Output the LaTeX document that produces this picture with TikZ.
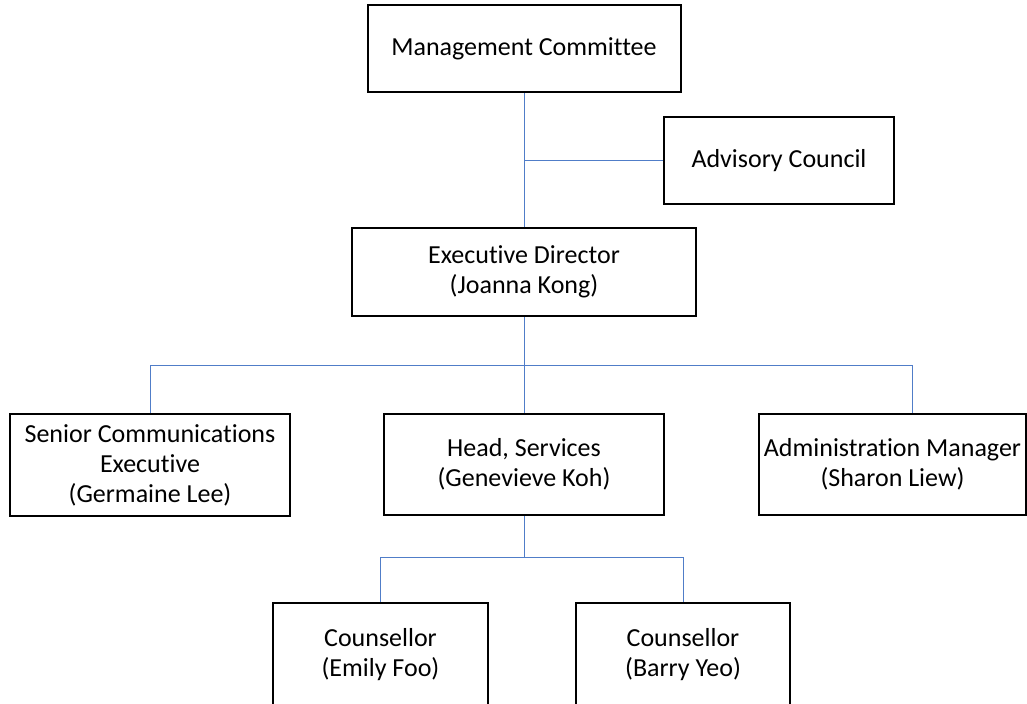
\documentclass[tikz,border=0pt]{standalone}
\usepackage{fontspec}
\setmainfont[RawFeature={-liga;-clig;-calt;-dlig}]{Carlito}
\usepackage{tikz}
\definecolor{linkblue}{RGB}{80,125,200}
\usetikzlibrary{calc,positioning}
\tikzset{%
  post/.style={draw, rectangle, fill=white, line width=1pt, inner sep=0pt,
    align=center, font=\fontsize{13pt}{15pt}\selectfont},% one post in the chart
  link/.style={draw=linkblue, line width=0.5pt}% reporting line
}

\begin{document}
\begin{tikzpicture}[x=0.5pt, y=-0.5pt]
\useasboundingbox (0,0) rectangle (1027,703);
\clip (0,0) rectangle (1027,703);
\node[post, minimum width=156.5pt, minimum height=43.5pt] (mc) at (524, 48.5) {Management Committee};
\node[post, minimum width=115pt, minimum height=43.5pt] (ac) at (779, 160.5) {Advisory Council};
\node[post, minimum width=172pt, minimum height=44pt] (ed) at (524, 272) {Executive Director\\(Joanna Kong)};
\node[post, minimum width=140pt, minimum height=51pt] (sce) at (150, 465) {Senior Communications\\Executive\\(Germaine Lee)};
\node[post, minimum width=140pt, minimum height=50.5pt] (hs) at (524, 464.5) {Head, Services\\(Genevieve Koh)};
\node[post, minimum width=133.5pt, minimum height=50.5pt] (am) at (892.5, 464.5) {Administration Manager\\(Sharon Liew)};
\node[post, minimum width=107.5pt, minimum height=52pt] (emily) at (380.5, 655) {Counsellor\\(Emily Foo)};
\node[post, minimum width=107pt, minimum height=52pt] (barry) at (683, 655) {Counsellor\\(Barry Yeo)};

\coordinate (bus1) at (524, 365);
\coordinate (bus2) at (524, 557);

\draw[link] (mc.south) -- (ed.north);
\draw[link] (ac.west) -- (ac.west -| mc.south);
\draw[link] (ed.south) -- (bus1);
\draw[link] (sce.north) |- (bus1);
\draw[link] (hs.north) -- (bus1);
\draw[link] ([xshift=10pt]am.north) |- (bus1);
\draw[link] (hs.south) -- (bus2);
\draw[link] (emily.north) |- (bus2);
\draw[link] (barry.north) |- (bus2);
\end{tikzpicture}
\end{document}
